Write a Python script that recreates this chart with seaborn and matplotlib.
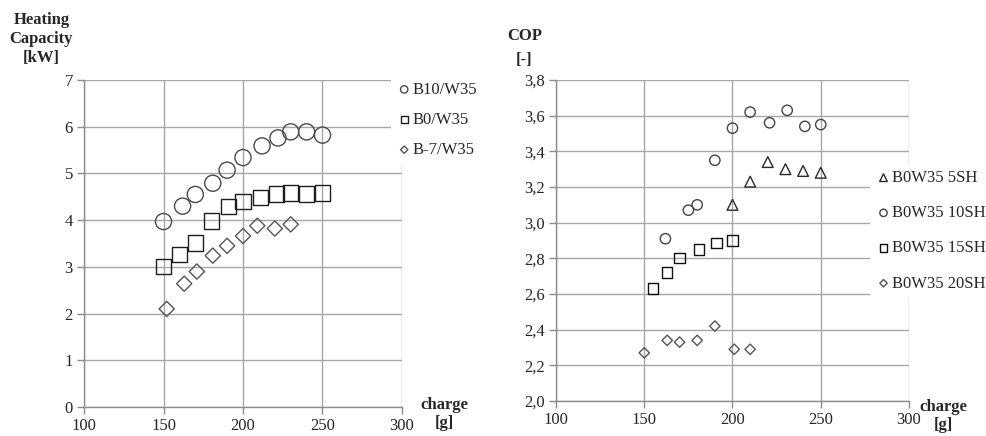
import matplotlib
matplotlib.use("Agg")
import matplotlib.pyplot as plt
import seaborn as sns
import pandas as pd
from matplotlib.ticker import FuncFormatter

# left chart: heating capacity [kW] vs charge [g]
b10_x = [150, 162, 170, 181, 190, 200, 212, 222, 230, 240, 250]
b10_y = [3.97, 4.30, 4.55, 4.79, 5.07, 5.34, 5.59, 5.76, 5.89, 5.89, 5.82]
b0_x = [150, 160, 170, 180, 191, 200, 211, 221, 230, 240, 250]
b0_y = [3.01, 3.26, 3.51, 3.98, 4.29, 4.40, 4.49, 4.56, 4.58, 4.56, 4.58]
bm7_x = [152, 163, 171, 181, 190, 200, 209, 220, 230]
bm7_y = [2.10, 2.64, 2.90, 3.24, 3.45, 3.66, 3.88, 3.82, 3.91]

# right chart: COP [-] vs charge [g]
sh5_x = [200, 210, 220, 230, 240, 250]
sh5_y = [3.10, 3.23, 3.34, 3.30, 3.29, 3.28]
sh10_x = [162, 175, 180, 190, 200, 210, 221, 231, 241, 250]
sh10_y = [2.91, 3.07, 3.10, 3.35, 3.53, 3.62, 3.56, 3.63, 3.54, 3.55]
sh15_x = [155, 163, 170, 181, 191, 200]
sh15_y = [2.63, 2.72, 2.80, 2.85, 2.885, 2.90]
sh20_x = [150, 163, 170, 180, 190, 201, 210]
sh20_y = [2.27, 2.34, 2.33, 2.34, 2.42, 2.29, 2.29]

sns.set_style("whitegrid")
plt.rcParams['font.family'] = ['Liberation Serif', 'DejaVu Serif']

fig = plt.figure(figsize=(9.86, 4.36), dpi=100)
ax1 = fig.add_axes([0.0852, 0.0665, 0.3225, 0.75])
ax2 = fig.add_axes([0.5639, 0.0803, 0.358, 0.7362])

left_series = [
    (b10_x, b10_y, "B10/W35", "o", 135, "#4a4a4a"),
    (b0_x, b0_y, "B0/W35", "s", 120, "#1e1e1e"),
    (bm7_x, bm7_y, "B-7/W35", "D", 60, "#555555"),
]
right_series = [
    (sh5_x, sh5_y, "B0W35 5SH", "^", 60, "#2a2a2a"),
    (sh10_x, sh10_y, "B0W35 10SH", "o", 55, "#444444"),
    (sh15_x, sh15_y, "B0W35 15SH", "s", 55, "#111111"),
    (sh20_x, sh20_y, "B0W35 20SH", "D", 28, "#555555"),
]
# legend marker sizes per shape
leg_sizes = {"o": 28, "s": 28, "D": 14, "^": 30}

for ax, series in [(ax1, left_series), (ax2, right_series)]:
    for xs, ys, name, mk, size, col in series:
        df = pd.DataFrame({"charge": xs, "val": ys})
        sns.scatterplot(data=df, x="charge", y="val", marker=mk, s=size,
                        color="none", edgecolor=col, linewidth=1.0,
                        label=name, ax=ax, zorder=3)

for ax in (ax1, ax2):
    ax.set_xlim(100, 300)
    ax.set_xticks([100, 150, 200, 250, 300])
    ax.set_xlabel("")
    ax.set_ylabel("")
    ax.grid(True, color="#a6a6a6", linewidth=1.0)
    for s in ["top", "right"]:
        ax.spines[s].set_visible(False)
    for s in ["left", "bottom"]:
        ax.spines[s].set_color("#8c8c8c")
        ax.spines[s].set_linewidth(1.0)
    ax.tick_params(axis="both", which="both", length=5, width=1,
                   color="#8c8c8c", labelsize=12, pad=3, direction="out",
                   left=True, bottom=True)

ax1.set_ylim(0, 7)
ax1.set_yticks(range(0, 8))
ax2.set_ylim(2.0, 3.8)
ax2.set_yticks([2.0, 2.2, 2.4, 2.6, 2.8, 3.0, 3.2, 3.4, 3.6, 3.8])
ax2.yaxis.set_major_formatter(FuncFormatter(lambda v, p: f"{v:.1f}".replace(".", ",")))

leg_kw = dict(frameon=True, facecolor="white", edgecolor="none", framealpha=1,
              handletextpad=0.0, handlelength=1.0, borderaxespad=0, fontsize=12,
              borderpad=0.3)
lg1 = ax1.legend(loc="upper left", bbox_to_anchor=(0.965, 1.01), labelspacing=0.85, **leg_kw)
lg2 = ax2.legend(loc="upper left", bbox_to_anchor=(0.89, 0.735), labelspacing=1.15, **leg_kw)
for lg, series in ((lg1, left_series), (lg2, right_series)):
    lg.set_zorder(5)
    for h, ser in zip(lg.legend_handles, series):
        h.set_sizes([leg_sizes[ser[3]]])

fig.text(0.042, 0.972, "Heating\nCapacity\n[kW]", ha="center", va="top",
         fontsize=12, fontweight="bold", linespacing=1.25)
fig.text(0.532, 0.935, "COP\n[-]", ha="center", va="top",
         fontsize=12, fontweight="bold", linespacing=1.6)
fig.text(0.451, 0.09, "charge\n[g]", ha="center", va="top",
         fontsize=12, fontweight="bold", linespacing=1.15)
fig.text(0.957, 0.085, "charge\n[g]", ha="center", va="top",
         fontsize=12, fontweight="bold", linespacing=1.15)

fig.savefig("out.png", dpi=100)
